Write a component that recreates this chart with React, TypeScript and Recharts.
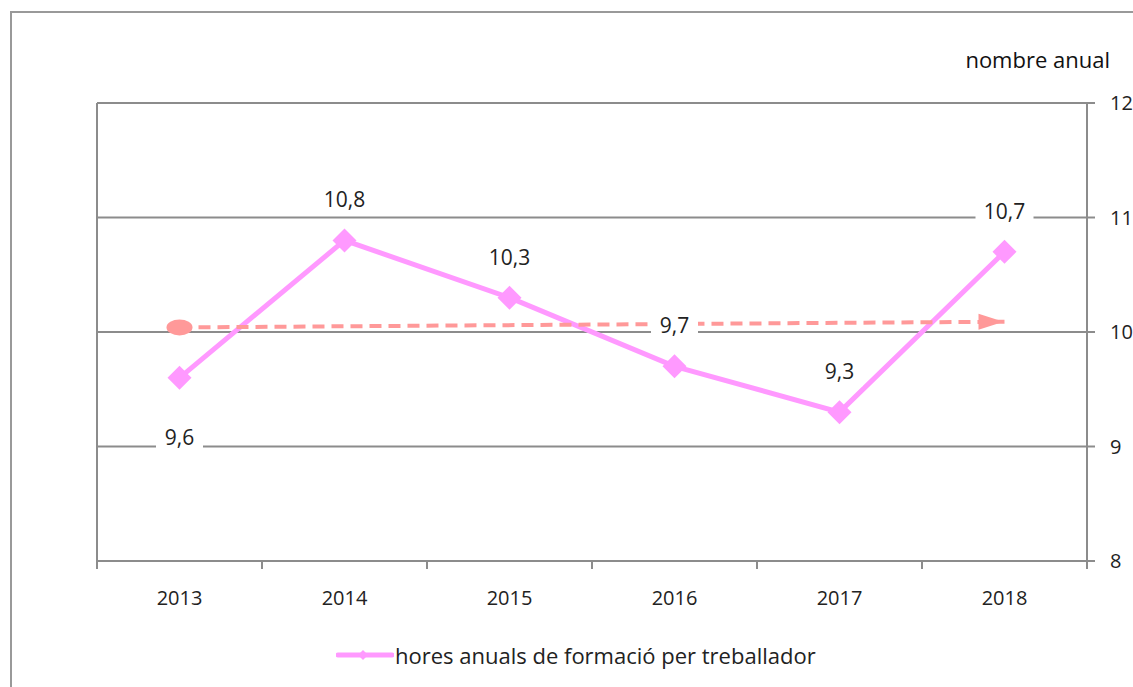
import { LineChart, Line, XAxis, YAxis, CartesianGrid, LabelList, Legend } from 'recharts';

const years = ['2013', '2014', '2015', '2016', '2017', '2018'];
const hores = [9.6, 10.8, 10.3, 9.7, 9.3, 10.7];
const tendencia = [10.04, null, null, null, null, 10.09];
const yTicks = [8, 9, 10, 11, 12];

const serieName = 'hores anuals de formació per treballador';
const unitLabel = 'nombre anual';

const data = years.map((y, i) => ({ year: y, hores: hores[i], trend: tendencia[i] }));

const W = 1133;
const H = 687;
const PLOT_L = 97;
const PLOT_R = 1087;
const HALF_BAND = (PLOT_R - PLOT_L) / years.length / 2;

const GRID = '#8c8c8c';
const PINK = '#ff99ff';
const SALMON = '#ff9999';
const FONT = '"Open Sans", "Noto Sans", sans-serif';

const fmt = (v: number) => String(v).replace('.', ',');

const XTick = (props: any) => {
    const { x, y, payload, index } = props;
    const top = y - 8;
    return <g>
        <line x1={x - HALF_BAND} x2={x - HALF_BAND} y1={top} y2={top + 8} stroke={GRID} strokeWidth={2}/>
        {index === years.length - 1 &&
            <line x1={x + HALF_BAND} x2={x + HALF_BAND} y1={top} y2={top + 8} stroke={GRID} strokeWidth={2}/>}
        <text x={x} y={y + 36} textAnchor="middle" fontSize={20} fill="#222" fontFamily={FONT}>{payload.value}</text>
    </g>
}

const YTick = (props: any) => {
    const { x, y, payload } = props;
    return <text x={x} y={y + 7} textAnchor="start" fontSize={20} fill="#222" fontFamily={FONT}>{payload.value}</text>
}

const ValueLabel = (props: any) => {
    const { x, y, value, index } = props;
    const below = index === 0;
    const cy = below ? y + 60 : y - 40;
    const text = fmt(value);
    const w = text.length * 11 + 14;
    return <g>
        <rect x={x - w / 2} y={cy - 14} width={w} height={28} fill="#fff"/>
        <text x={x} y={cy + 7} textAnchor="middle" fontSize={21} fill="#222" fontFamily={FONT}>{text}</text>
    </g>
}

const Diamond = (props: any) => {
    const { cx, cy } = props;
    if (cx == null || cy == null) return null;
    const r = 12;
    return <polygon points={`${cx},${cy - r} ${cx + r},${cy} ${cx},${cy + r} ${cx - r},${cy}`} fill={PINK}/>
}

const TrendEnd = (props: any) => {
    const { cx, cy, index } = props;
    if (cx == null || cy == null || tendencia[index] == null) return null;
    if (index === 0) return <ellipse cx={cx} cy={cy} rx={13} ry={8} fill={SALMON}/>;
    return <polygon points={`${cx - 1},${cy} ${cx - 26},${cy - 8} ${cx - 26},${cy + 8}`} fill={SALMON}/>;
}

const LegendContent = () => (
    <div style={{ display: 'flex', alignItems: 'center', fontFamily: FONT, fontSize: 22, color: '#222' }}>
        <svg width={58} height={20}>
            <line x1={2} x2={56} y1={10} y2={10} stroke={PINK} strokeWidth={5} strokeLinecap="round"/>
            <polygon points="27,5 32,10 27,15 22,10" fill={PINK}/>
        </svg>
        <span style={{ marginLeft: 1 }}>{serieName}</span>
    </div>
)

export default function App() {
    return <div style={{ position: 'absolute', left: 0, top: 0, width: W, height: H, overflow: 'hidden', background: '#fff' }}>
        <div style={{ position: 'absolute', left: 10, top: 11, width: W + 50, height: H + 50, border: '2px solid #999' }}/>
        <div style={{ position: 'absolute', right: 23, top: 44, fontFamily: FONT, fontSize: 22, color: '#111' }}>{unitLabel}</div>
        <LineChart width={W} height={H} data={data} margin={{ top: 103, right: 0, left: PLOT_L - 1, bottom: 46 }}>
            <CartesianGrid yAxisId="right" vertical={false} stroke={GRID} strokeWidth={2}/>
            <XAxis dataKey="year" height={40} padding={{ left: HALF_BAND, right: HALF_BAND }}
                   axisLine={{ stroke: GRID, strokeWidth: 2 }} tickLine={false} tickSize={8} tickMargin={0}
                   tick={<XTick/>} interval={0}/>
            <YAxis yAxisId="left" orientation="left" width={1} domain={[8, 12]} tick={false} tickLine={false}
                   axisLine={{ stroke: GRID, strokeWidth: 2 }}/>
            <YAxis yAxisId="right" orientation="right" width={W - PLOT_R} domain={[8, 12]}
                   ticks={yTicks} interval={0} tickSize={8} tickMargin={15}
                   tickLine={{ stroke: GRID, strokeWidth: 2 }} axisLine={{ stroke: GRID, strokeWidth: 2 }} tick={<YTick/>}/>
            <Line yAxisId="right" type="linear" dataKey="hores" name={serieName} stroke={PINK} strokeWidth={5}
                  dot={<Diamond/>} activeDot={false} isAnimationActive={false}>
                <LabelList dataKey="hores" content={<ValueLabel/>}/>
            </Line>
            <Line yAxisId="right" type="linear" dataKey="trend" stroke={SALMON} strokeWidth={4} strokeDasharray="12 7"
                  connectNulls dot={<TrendEnd/>} activeDot={false} legendType="none" isAnimationActive={false}/>
            <Legend height={40} content={<LegendContent/>}
                    wrapperStyle={{ position: 'absolute', left: 336, top: 640, width: 700 }}/>
        </LineChart>
    </div>
}
